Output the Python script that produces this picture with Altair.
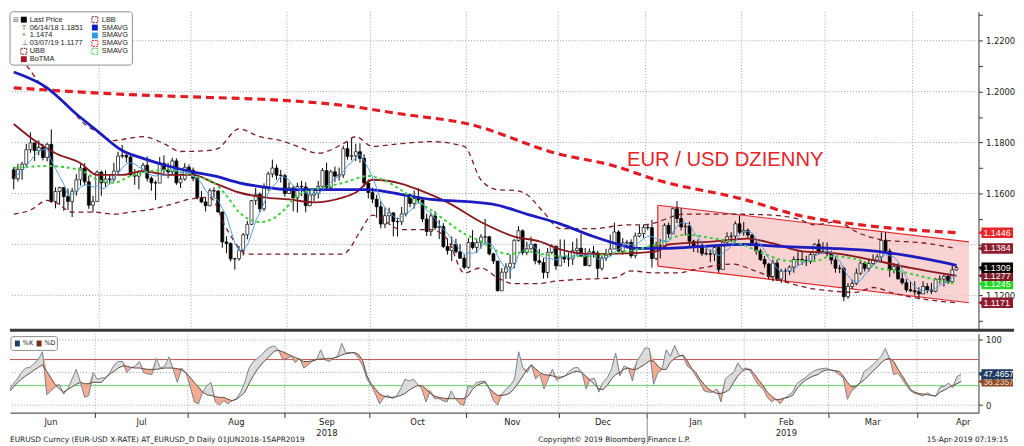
import altair as alt
import pandas as pd

# ---------------- data ----------------
first_open = 1.1693
close = [
    1.1658,1.1694,1.1715,1.1772,1.1799,1.1768,1.1781,1.1741,1.1793,1.1569,1.1608,1.1624,1.1588,1.1569,1.1609,1.1654,1.1700,1.1646,1.1554,1.1569,1.1684,
    1.1642,1.1657,1.1656,1.1688,1.1747,1.1749,1.1743,1.1673,1.1668,1.1685,1.1711,1.1660,1.1642,1.1641,1.1719,1.1692,1.1685,1.1728,1.1642,1.1657,1.1703,1.1691,
    1.1660,1.1584,1.1567,1.1552,1.1611,1.1610,1.1527,1.1410,1.1404,1.1343,1.1344,1.1376,1.1438,1.1479,1.1572,1.1597,1.1540,1.1622,1.1677,1.1700,1.1672,1.1670,1.1600,
    1.1622,1.1583,1.1628,1.1626,1.1552,1.1594,1.1601,1.1628,1.1690,1.1624,1.1685,1.1668,1.1673,1.1776,1.1746,1.1748,1.1764,1.1738,1.1641,1.1604,
    1.1578,1.1548,1.1480,1.1513,1.1524,1.1490,1.1489,1.1520,1.1595,1.1561,1.1580,1.1575,1.1500,1.1451,1.1512,1.1466,1.1470,1.1392,1.1376,1.1401,1.1371,1.1346,1.1310,
    1.1408,1.1388,1.1407,1.1429,1.1430,1.1363,1.1335,1.1218,1.1291,1.1311,1.1326,1.1416,1.1454,1.1368,1.1383,1.1401,1.1336,1.1329,1.1290,1.1369,1.1393,1.1316,
    1.1352,1.1343,1.1343,1.1376,1.1385,1.1354,1.1317,1.1371,1.1366,1.1306,1.1347,1.1358,1.1382,1.1449,1.1373,1.1406,1.1408,1.1356,1.1433,1.1443,1.1467,
    1.1466,1.1345,1.1393,1.1395,1.1475,1.1442,1.1540,1.1502,1.1469,1.1472,1.1413,1.1394,1.1391,1.1364,1.1363,1.1362,1.1388,1.1302,1.1409,1.1430,1.1433,1.1481,1.1448,
    1.1455,1.1437,1.1405,1.1374,1.1341,1.1323,1.1274,1.1327,1.1264,1.1295,1.1295,1.1311,1.1341,1.1341,1.1338,1.1334,1.1360,1.1401,1.1373,1.1371,
    1.1364,1.1339,1.1307,1.1306,1.1195,1.1235,1.1247,1.1287,1.1327,1.1306,1.1325,1.1339,1.1351,1.1416,1.1374,1.1300,1.1313,1.1265,1.1250,1.1222,1.1218,
    1.1214,1.1206,1.1235,1.1221,1.1216,1.1263,1.1264,1.1275,1.1254,1.1300,1.1309,
]
high = [
    1.1705,1.1717,1.1724,1.1795,1.1840,1.1797,1.1809,1.1795,1.1800,1.1852,1.1624,1.1626,1.1618,1.1620,1.1622,1.1676,1.1715,1.1719,1.1669,1.1591,1.1691,
    1.1690,1.1690,1.1676,1.1720,1.1764,1.1791,1.1763,1.1748,1.1696,1.1692,1.1721,1.1745,1.1667,1.1651,1.1743,1.1750,1.1721,1.1740,1.1738,1.1671,1.1719,1.1714,
    1.1702,1.1667,1.1610,1.1584,1.1620,1.1625,1.1614,1.1530,1.1432,1.1408,1.1348,1.1394,1.1445,1.1493,1.1575,1.1622,1.1604,1.1640,1.1686,1.1733,1.1714,1.1693,1.1678,
    1.1644,1.1630,1.1642,1.1650,1.1644,1.1611,1.1612,1.1649,1.1700,1.1721,1.1693,1.1706,1.1702,1.1788,1.1803,1.1815,1.1795,1.1797,1.1754,1.1656,
    1.1623,1.1594,1.1569,1.1545,1.1544,1.1520,1.1505,1.1547,1.1603,1.1599,1.1612,1.1621,1.1582,1.1521,1.1525,1.1531,1.1496,1.1484,1.1424,1.1431,1.1422,1.1401,1.1360,
    1.1425,1.1456,1.1422,1.1440,1.1500,1.1434,1.1367,1.1335,1.1307,1.1326,1.1360,1.1421,1.1472,1.1459,1.1411,1.1431,1.1404,1.1383,1.1346,1.1386,1.1401,1.1395,
    1.1420,1.1419,1.1369,1.1410,1.1424,1.1442,1.1386,1.1384,1.1394,1.1375,1.1357,1.1383,1.1439,1.1486,1.1456,1.1425,1.1418,1.1420,1.1447,1.1475,1.1479,
    1.1481,1.1497,1.1412,1.1421,1.1483,1.1486,1.1545,1.1570,1.1542,1.1484,1.1489,1.1418,1.1420,1.1411,1.1394,1.1380,1.1395,1.1396,1.1417,1.1448,1.1448,1.1491,1.1514,
    1.1488,1.1463,1.1441,1.1414,1.1383,1.1355,1.1328,1.1341,1.1340,1.1304,1.1306,1.1318,1.1353,1.1372,1.1371,1.1355,1.1370,1.1405,1.1420,1.1409,
    1.1408,1.1375,1.1350,1.1320,1.1313,1.1248,1.1262,1.1306,1.1339,1.1333,1.1345,1.1361,1.1362,1.1448,1.1448,1.1384,1.1326,1.1326,1.1290,1.1264,1.1255,
    1.1255,1.1232,1.1255,1.1248,1.1249,1.1269,1.1279,1.1288,1.1286,1.1323,1.1317,
]
low = [
    1.1617,1.1647,1.1654,1.1706,1.1760,1.1728,1.1750,1.1730,1.1726,1.1563,1.1542,1.1556,1.1532,1.1535,1.1508,1.1591,1.1631,1.1631,1.1540,1.1526,1.1570,
    1.1591,1.1626,1.1636,1.1646,1.1676,1.1738,1.1722,1.1671,1.1634,1.1617,1.1683,1.1647,1.1611,1.1575,1.1641,1.1679,1.1660,1.1671,1.1634,1.1622,1.1650,1.1677,
    1.1648,1.1577,1.1562,1.1529,1.1550,1.1581,1.1528,1.1387,1.1365,1.1333,1.1301,1.1336,1.1356,1.1420,1.1476,1.1555,1.1527,1.1531,1.1610,1.1663,1.1654,1.1643,1.1588,
    1.1598,1.1530,1.1525,1.1590,1.1526,1.1550,1.1570,1.1580,1.1609,1.1613,1.1610,1.1645,1.1650,1.1661,1.1733,1.1730,1.1727,1.1721,1.1626,1.1581,
    1.1562,1.1505,1.1463,1.1464,1.1483,1.1432,1.1431,1.1476,1.1510,1.1546,1.1540,1.1561,1.1488,1.1433,1.1433,1.1457,1.1421,1.1386,1.1360,1.1335,1.1365,1.1344,1.1302,
    1.1305,1.1381,1.1366,1.1383,1.1400,1.1357,1.1323,1.1216,1.1217,1.1265,1.1265,1.1306,1.1411,1.1358,1.1358,1.1379,1.1322,1.1320,1.1266,1.1268,1.1361,1.1300,
    1.1331,1.1327,1.1313,1.1320,1.1357,1.1354,1.1316,1.1313,1.1348,1.1269,1.1297,1.1335,1.1361,1.1384,1.1364,1.1360,1.1383,1.1346,1.1346,1.1428,1.1425,
    1.1456,1.1309,1.1338,1.1345,1.1394,1.1425,1.1443,1.1484,1.1455,1.1436,1.1394,1.1370,1.1367,1.1355,1.1357,1.1331,1.1335,1.1289,1.1302,1.1400,1.1409,1.1413,1.1440,
    1.1434,1.1425,1.1394,1.1360,1.1335,1.1309,1.1263,1.1255,1.1256,1.1249,1.1251,1.1280,1.1289,1.1317,1.1320,1.1315,1.1324,1.1340,1.1362,1.1364,
    1.1354,1.1322,1.1289,1.1287,1.1177,1.1187,1.1225,1.1240,1.1280,1.1294,1.1294,1.1320,1.1331,1.1333,1.1371,1.1272,1.1286,1.1262,1.1242,1.1213,1.1213,
    1.1200,1.1184,1.1207,1.1208,1.1205,1.1212,1.1246,1.1235,1.1245,1.1253,1.1297,
]

# indicator lines (trading-day index, value)
sma200_i = [0,23,47,61,79,93,109,130,144,154,175,188,203,226]
sma200_v = [1.2015,1.1992,1.1977,1.1969,1.1946,1.1912,1.1873,1.1758,1.1708,1.1654,1.1577,1.1515,1.1477,1.1446]
sma100_i = [0,8,15,20,26,31,37,44,48,54,61,66,74,85,93,100,108,116,123,131,139,145,149,157,165,175,184,196,207,215,226]
sma100_v = [1.2077,1.2015,1.1912,1.1846,1.1769,1.1738,1.1708,1.1681,1.1669,1.1642,1.1623,1.1615,1.1615,1.1615,1.1596,1.1577,1.1569,1.1554,1.1519,1.1481,1.1431,1.1400,1.1385,1.1385,1.1392,1.1400,1.1392,1.1385,1.1373,1.1354,1.1318]
botma_i = [0,5,10,16,20,26,31,37,43,48,54,60,66,72,79,82,86,93,97,104,112,120,126,131,139,147,154,157,168,176,182,189,197,207,215,226]
botma_v = [1.1873,1.1808,1.1758,1.1719,1.1673,1.1673,1.1688,1.1673,1.1673,1.1642,1.1604,1.1585,1.1577,1.1565,1.1585,1.1604,1.1654,1.1638,1.1615,1.1565,1.1488,1.1431,1.1412,1.1381,1.1362,1.1365,1.1373,1.1400,1.1412,1.1423,1.1404,1.1373,1.1365,1.1335,1.1308,1.1277]
sma20_i = [0,8,16,20,24,28,33,37,43,48,51,54,59,62,65,68,74,79,85,89,93,96,100,104,108,112,116,119,123,127,131,139,143,147,154,161,168,174,180,186,192,196,202,207,212,219,226]
sma20_v = [1.1700,1.1708,1.1692,1.1654,1.1642,1.1669,1.1688,1.1692,1.1669,1.1642,1.1592,1.1527,1.1488,1.1500,1.1538,1.1592,1.1623,1.1642,1.1669,1.1650,1.1612,1.1577,1.1535,1.1488,1.1442,1.1412,1.1373,1.1362,1.1373,1.1362,1.1354,1.1354,1.1365,1.1373,1.1400,1.1438,1.1423,1.1404,1.1362,1.1335,1.1335,1.1354,1.1342,1.1308,1.1296,1.1269,1.1245]
ubb_i = [0,3,6,12,17,20,24,27,31,36,40,47,49,54,59,64,68,73,79,82,86,93,100,108,112,116,120,123,127,131,139,147,151,161,172,182,188,192,197,203,208,219,226]
ubb_v = [1.2150,1.2104,1.2038,1.1962,1.1873,1.1842,1.1808,1.1815,1.1823,1.1796,1.1765,1.1769,1.1777,1.1854,1.1823,1.1808,1.1785,1.1758,1.1796,1.1823,1.1785,1.1796,1.1804,1.1785,1.1654,1.1615,1.1612,1.1596,1.1527,1.1462,1.1462,1.1477,1.1477,1.1519,1.1519,1.1515,1.1500,1.1477,1.1488,1.1442,1.1419,1.1404,1.1384]
lbb_i = [0,4,8,10,14,19,24,28,33,37,42,47,51,56,62,68,75,79,80,83,86,93,100,104,108,112,116,120,125,131,139,144,148,154,159,165,172,179,184,190,195,202,206,211,217,226]
lbb_v = [1.1519,1.1535,1.1573,1.1565,1.1527,1.1527,1.1519,1.1527,1.1538,1.1554,1.1577,1.1585,1.1462,1.1362,1.1362,1.1362,1.1362,1.1362,1.1373,1.1450,1.1515,1.1458,1.1458,1.1419,1.1288,1.1308,1.1269,1.1246,1.1246,1.1258,1.1265,1.1269,1.1296,1.1288,1.1288,1.1308,1.1323,1.1288,1.1258,1.1231,1.1219,1.1212,1.1231,1.1208,1.1188,1.1171]

# drawn down-trend channel
chan_i = [154.4, 229.0]
chan_top = [1.1554, 1.1410]
chan_bot = [1.1315, 1.1171]

# stochastic %K / %D (daily)
stoch_k = [
    22,32,40,50,57,58,64,70,82,16, 22,28,32,17,25,40,55,35,12,15,
    50,40,42,42,50,62,67,67,50,57, 60,67,50,48,47,72,57,60,74,55,
    35,57,50,30,5,2,20,30,35,5, 0,7,2,7,10,20,35,57,67,72,
    77,85,89,91,85,70,72,75,65,72, 57,62,67,70,85,70,67,72,75,95,
    80,81,80,72,60,40,30,17,2,12, 15,10,14,25,40,37,40,32,25,5,
    22,10,10,7,5,22,10,2,0,30, 27,35,36,37,25,7,0,17,25,30,
    40,82,57,50,62,40,47,25,40,55, 38,42,45,52,57,58,50,25,40,41,
    20,35,42,55,80,45,60,57,37,67, 77,88,87,32,50,55,85,75,92,77,
    75,60,55,45,35,22,20,20,25,5, 40,46,50,65,55,57,52,40,30,25,
    12,5,10,2,10,15,20,33,38,42, 48,52,55,56,57,54,52,47,42,9,
    22,27,35,52,56,62,68,75,87,72, 47,49,40,30,22,18,16,14,19,15,
    14,28,29,34,27,44,47.4657,
]
stoch_d = [
    20,27,34,40,45,49,54,58,62,52, 42,32,25,20,24,28,32,35,33,33,
    35,35,35,42,48,52,57,60,60,58, 57,57,56,55,55,55,56,57,57,57,
    56,54,50,43,35,28,20,16,15,13, 12,12,9,7,9,14,20,33,45,55,
    63,70,76,83,84,82,79,76,73,70, 67,67,68,70,71,71,72,72,74,77,
    79,80,81,78,68,45,33,25,17,14, 12,12,13,15,18,23,27,30,30,25,
    18,14,12,11,10,10,10,10,10,14, 24,30,33,35,26,20,15,15,16,19,
    26,35,45,55,62,56,50,47,46,45, 43,43,45,48,51,52,50,44,38,32,
    25,24,30,40,47,50,55,57,55,55, 59,63,68,68,60,55,55,66,72,75,
    77,68,57,50,40,32,25,21,18,18, 20,24,35,45,52,55,55,47,38,30,
    20,14,8,9,11,12,15,25,33,38, 42,45,47,52,54,54,53,52,45,35,
    28,29,34,39,45,52,58,65,70,72, 67,55,45,35,24,20,18,17,16,15,
    14,20,23,27,30,33,36.2357,
]

# value tags (drawn bottom-up so that upper tags sit on top)
tag_up_v = [1.1171, 1.1245, 1.1277, 1.1309, 1.1384, 1.1446]
tag_up_c = ["#8e1b2e", "#22d822", "#7d1c2a", "#000000", "#8e1b2e", "#e8262b"]
tag_lo_v = [36.2357, 47.4657]
tag_lo_c = ["#8a4a26", "#1d3b5e"]
tag_lo_tc = ["#f6dcc8", "white"]

month_names = ["Jun","Jul","Aug","Sep","Oct","Nov","Dec","Jan","Feb","Mar","Apr"]
month_firsts = pd.date_range("2018-06-01", "2019-04-01", freq="MS")
price_grid = [1.12, 1.14, 1.16, 1.18, 1.20, 1.22]

# ---------------- derived tables ----------------
n = len(close)
opens = [first_open] + close[:-1]
df = pd.DataFrame({"i": range(n), "open": opens, "close": close,
                   "high": high[:n], "low": low[:n]})
df["high"] = df[["high", "open", "close"]].max(axis=1)
df["low"] = df[["low", "open", "close"]].min(axis=1)

starts, mids = [], []
pos = 0
for mf in month_firsts:
    nwd = len(pd.bdate_range(mf, mf + pd.offsets.MonthEnd(0)))
    starts.append(pos)
    mids.append(pos + (nwd - 1) / 2)
    pos += nwd
grid_x = [s - 0.5 for s in starts[1:]]
months_df = pd.DataFrame({"m": mids, "name": month_names})
years_df = pd.DataFrame({"m": [mids[3], mids[8]], "name": ["2018", "2019"]})

m = min(len(stoch_k), len(stoch_d))
st = pd.DataFrame({"i": range(m), "k": stoch_k[:m], "d": stoch_d[:m]})
st["top"] = st[["k", "d"]].max(axis=1)

# ---------------- layout / scales ----------------
W, H1, H2 = 981, 321, 80
FONT = "DejaVu Sans"
NFONT = "Liberation Sans"
xs = alt.Scale(domain=[0.28, 230.1], nice=False, zero=False)
ys = alt.Scale(domain=[1.10692, 1.23135], nice=False, zero=False)
ks = alt.Scale(domain=[-11.4, 109.8], nice=False, zero=False)

yax = alt.Axis(orient="right", values=[round(1.11 + 0.01 * j, 2) for j in range(13)],
               labelExpr="(round(datum.value*100) % 2 == 0 && round(datum.value*100) != 114) ? format(datum.value, '.4f') : ''",
               grid=False, title=None, tickSize=4, labelFontSize=8.5, labelFont=FONT,
               labelColor="#222", domainColor="#333", tickColor="#333", labelPadding=3)
kax = alt.Axis(orient="right", values=[0, 50, 100],
               labelExpr="datum.value == 50 ? '' : format(datum.value, 'd')",
               grid=False, title=None, tickSize=4, labelFontSize=8.5, labelFont=FONT,
               labelColor="#222", domainColor="#333", tickColor="#333", labelPadding=3)
xax_low = alt.Axis(values=grid_x, labels=False, ticks=True, tickSize=5, grid=False,
                   title=None, domainColor="#333", tickColor="#333")

one = pd.DataFrame({"a": [0]})


def ptext(t, x, y, size=7.5, color="#1a1a1a", align="left", font=FONT):
    return alt.Chart(one).mark_text(text=t, align=align, baseline="middle", fontSize=size,
                                    font=font, color=color).encode(x=alt.value(x), y=alt.value(y))


def prect(x0, x1, y0, y1, fill, stroke=None, sw=1.0, dash=None, radius=0, fo=1.0):
    kw = dict(fill=fill, fillOpacity=fo)
    if stroke:
        kw.update(stroke=stroke, strokeWidth=sw)
    if dash:
        kw["strokeDash"] = dash
    if radius:
        kw["cornerRadius"] = radius
    return alt.Chart(one).mark_rect(**kw).encode(x=alt.value(x0), x2=alt.value(x1),
                                                 y=alt.value(y0), y2=alt.value(y1))


def iline(ii, vv, color, width, dash=None, interp="monotone"):
    kw = dict(color=color, strokeWidth=width, clip=True, interpolate=interp)
    if dash:
        kw["strokeDash"] = dash
    return alt.Chart(pd.DataFrame({"i": ii, "v": vv})).mark_line(**kw).encode(
        x=alt.X("i:Q", scale=xs, axis=None), y=alt.Y("v:Q", scale=ys, axis=yax))


def tag_layers(vals, cols, tcols, scale, axis, half, size):
    out = []
    for v, c, tc in zip(vals, cols, tcols):
        d = pd.DataFrame({"v": [v], "y0": [v - half], "y1": [v + half]})
        out.append(alt.Chart(d).mark_rect(color=c).encode(
            x=alt.value(W + 3), x2=alt.value(W + 35),
            y=alt.Y("y0:Q", scale=scale, axis=axis), y2="y1:Q"))
        out.append(alt.Chart(d).mark_point(shape="triangle-left", filled=True, size=30,
                                           opacity=1, color=c).encode(
            x=alt.value(W + 2), y=alt.Y("v:Q", scale=scale, axis=axis)))
        out.append(alt.Chart(d).mark_text(align="left", baseline="middle", fontSize=size,
                                          font=NFONT, color=tc).encode(
            x=alt.value(W + 5), y=alt.Y("v:Q", scale=scale, axis=axis),
            text=alt.Text("v:Q", format=".4f")))
    return out


X = alt.X("i:Q", scale=xs, axis=None)

# ---------------- upper panel ----------------
hgrid = alt.Chart(pd.DataFrame({"v": price_grid})).mark_rule(
    color="#a0a0a0", strokeDash=[1, 2], strokeWidth=1).encode(y=alt.Y("v:Q", scale=ys, axis=yax))
vgrid = alt.Chart(pd.DataFrame({"m": grid_x})).mark_rule(
    color="#a0a0a0", strokeDash=[1, 2], strokeWidth=1).encode(x=alt.X("m:Q", scale=xs, axis=None))

chan_df = pd.DataFrame({"i": chan_i, "top": chan_top, "bot": chan_bot})
chan_area = alt.Chart(chan_df).mark_area(color="#f7c3c4", opacity=0.75, clip=True).encode(
    x=X, y=alt.Y("top:Q", scale=ys, axis=yax), y2="bot:Q")
chan_top_l = alt.Chart(chan_df).mark_line(color="#e0282c", strokeWidth=1.2, clip=True).encode(
    x=X, y=alt.Y("top:Q", scale=ys, axis=yax))
chan_bot_l = alt.Chart(chan_df).mark_line(color="#e0282c", strokeWidth=1.2, clip=True).encode(
    x=X, y=alt.Y("bot:Q", scale=ys, axis=yax))
chan_left = alt.Chart(chan_df.iloc[:1]).mark_rule(color="#e0282c", strokeWidth=1.2).encode(
    x=X, y=alt.Y("top:Q", scale=ys, axis=yax), y2="bot:Q")

wicks = alt.Chart(df).mark_rule(color="black", strokeWidth=1, clip=True).encode(
    x=X, y=alt.Y("low:Q", scale=ys, axis=yax), y2="high:Q")
bodies = alt.Chart(df).mark_bar(size=3, stroke="black", strokeWidth=0.7, clip=True).encode(
    x=X, y=alt.Y("open:Q", scale=ys, axis=yax), y2="close:Q",
    fill=alt.condition("datum.close < datum.open", alt.value("black"), alt.value("white")))

sma5 = alt.Chart(df).transform_window(
    s5="mean(close)", frame=[-4, 0], sort=[alt.SortField("i")]
).mark_line(color="#4f9ee0", strokeWidth=1, clip=True).encode(
    x=X, y=alt.Y("s5:Q", scale=ys, axis=yax))

l_ubb = iline(ubb_i, ubb_v, "#7a1c22", 1.3, dash=[5, 4])
l_lbb = iline(lbb_i, lbb_v, "#7a1c22", 1.3, dash=[5, 4])
l_200 = iline(sma200_i, sma200_v, "#e31c23", 3.2, dash=[8, 5])
l_bot = iline(botma_i, botma_v, "#8b1a1f", 1.9)
l_100 = iline(sma100_i, sma100_v, "#1c1cc0", 2.8)
l_20 = iline(sma20_i, sma20_v, "#3ccf3c", 2.0, dash=[3, 3])

title_df = pd.DataFrame({"i": [147.0], "v": [1.1708], "t": ["EUR / USD DZIENNY"]})
title_t = alt.Chart(title_df).mark_text(align="left", baseline="alphabetic", fontSize=20.5,
                                        font="Liberation Sans", color="#e4252a").encode(
    x=X, y=alt.Y("v:Q", scale=ys, axis=yax), text="t:N")

# legend box (top-left)
LF = 7.5
leg = [prect(0, 124, 0, 54, "white", stroke="#8c8c8c", sw=1, radius=3)]
rows = [8, 16, 24, 32, 40, 48]
leg.append(ptext("⊟", 3, rows[0], size=7, color="#555"))
leg.append(prect(11, 17, rows[0] - 3, rows[0] + 3, "black"))
leg.append(ptext("Last Price", 20, rows[0], size=LF, font=NFONT))
leg.append(ptext("T", 12, rows[1], size=LF, color="#666", font=NFONT))
leg.append(ptext("06/14/18 1.1851", 20, rows[1], size=LF, font=NFONT))
leg.append(ptext("+", 12, rows[2], size=LF, color="#666", font=NFONT))
leg.append(ptext("1.1474", 20, rows[2], size=LF, font=NFONT))
leg.append(ptext("⊥", 12, rows[3], size=LF, color="#666"))
leg.append(ptext("03/07/19 1.1177", 20, rows[3], size=LF, font=NFONT))
leg.append(prect(11, 17, rows[4] - 3, rows[4] + 3, "white", stroke="#7a1c22", sw=1, dash=[2, 1]))
leg.append(ptext("UBB", 20, rows[4], size=LF, font=NFONT))
leg.append(prect(11, 17, rows[5] - 3, rows[5] + 3, "#a0162b"))
leg.append(ptext("BoTMA", 20, rows[5], size=LF, font=NFONT))
right_icons = [("white", "#7a1c22", [2, 1], "LBB"), ("#0a22c8", None, None, "SMAVG"),
               ("#2f9be8", None, None, "SMAVG"), ("white", "#e31c23", [2, 1], "SMAVG"),
               ("white", "#3ccf3c", [2, 1], "SMAVG")]
for r, (fc, sc, dsh, lab) in enumerate(right_icons):
    leg.append(prect(83, 89, rows[r] - 3, rows[r] + 3, fc, stroke=sc, sw=1, dash=dsh))
    leg.append(ptext(lab, 93, rows[r], size=LF, font=NFONT))

up_tags = tag_layers(tag_up_v, tag_up_c, ["white"] * len(tag_up_v), ys, yax, 0.00205, 9)

sep = alt.Chart(one).mark_rule(color="#3a3a3a", strokeWidth=3).encode(
    x=alt.value(0), x2=alt.value(W + 36), y=alt.value(H1 + 1.5))

upper = alt.layer(
    hgrid, vgrid, chan_area, chan_top_l, chan_bot_l, chan_left,
    wicks, bodies, l_ubb, l_lbb, l_200, l_bot, l_100, l_20, sma5, title_t,
    *leg, *up_tags, sep
).properties(width=W, height=H1)

# ---------------- lower panel ----------------
XL = alt.X("i:Q", scale=xs, axis=xax_low)
khgrid = alt.Chart(pd.DataFrame({"v": [0, 50, 100]})).mark_rule(
    color="#a0a0a0", strokeDash=[1, 2], strokeWidth=1).encode(y=alt.Y("v:Q", scale=ks, axis=kax))
kvgrid = alt.Chart(pd.DataFrame({"i": grid_x})).mark_rule(
    color="#a0a0a0", strokeDash=[1, 2], strokeWidth=1).encode(x=XL)
lvl70 = alt.Chart(pd.DataFrame({"v": [70]})).mark_rule(color="#c0504d", strokeWidth=1).encode(
    y=alt.Y("v:Q", scale=ks, axis=kax))
lvl30 = alt.Chart(pd.DataFrame({"v": [30]})).mark_rule(color="#5fd35f", strokeWidth=1).encode(
    y=alt.Y("v:Q", scale=ks, axis=kax))
fill_gray = alt.Chart(st).mark_area(color="#dadada", opacity=0.95, clip=True).encode(
    x=XL, y=alt.Y("top:Q", scale=ks, axis=kax), y2="d:Q")
fill_sal = alt.Chart(st).mark_area(color="#f5a68c", opacity=0.95, clip=True).encode(
    x=XL, y=alt.Y("top:Q", scale=ks, axis=kax), y2="k:Q")
kline = alt.Chart(st).mark_line(color="#76828f", strokeWidth=1, clip=True).encode(
    x=XL, y=alt.Y("k:Q", scale=ks, axis=kax))
dline = alt.Chart(st).mark_line(color="#5e4c44", strokeWidth=1, clip=True).encode(
    x=XL, y=alt.Y("d:Q", scale=ks, axis=kax))

kleg = [prect(1, 48, 3, 17, "white", stroke="#8c8c8c", sw=1, radius=2),
        prect(5, 10, 7, 13, "#1f3d63"), ptext("%K", 13, 10, size=6.5),
        prect(27, 32, 7, 13, "#7a2e10"), ptext("%D", 35, 10, size=6.5)]

lo_tags = tag_layers(tag_lo_v, tag_lo_c, tag_lo_tc, ks, kax, 7.6, 8.5)

mlabels = alt.Chart(months_df).mark_text(fontSize=8.5, font=FONT, color="#222", baseline="middle").encode(
    x=alt.X("m:Q", scale=xs, axis=xax_low), y=alt.value(H2 + 10), text="name:N")
ylabels = alt.Chart(years_df).mark_text(fontSize=8.5, font=FONT, color="#222", baseline="middle").encode(
    x=alt.X("m:Q", scale=xs, axis=xax_low), y=alt.value(H2 + 21), text="name:N")
yearline = alt.Chart(pd.DataFrame({"i": [grid_x[6]]})).mark_rule(color="#8a8a8a", strokeWidth=1).encode(
    x=XL, y=alt.value(H2), y2=alt.value(H2 + 32))
foot = [ptext("EURUSD Curncy (EUR-USD X-RATE) AT_EURUSD_D  Daily 01JUN2018-15APR2019", 0, H2 + 28, size=7.5),
        ptext("Copyright\u00a9 2019 Bloomberg Finance L.P.", 535, H2 + 28, size=7.5),
        ptext("15-Apr-2019 07:19:15", W + 30, H2 + 28, size=7.5, align="right")]

lower = alt.layer(
    khgrid, kvgrid, lvl70, lvl30, fill_gray, fill_sal, kline, dline,
    *kleg, *lo_tags, mlabels, ylabels, yearline, *foot
).properties(width=W, height=H2)

chart = alt.vconcat(upper, lower, spacing=1).properties(
    padding=0, background="white"
).configure_view(stroke=None)

chart.save("out.html", embed_options={"renderer": "svg", "actions": False})
